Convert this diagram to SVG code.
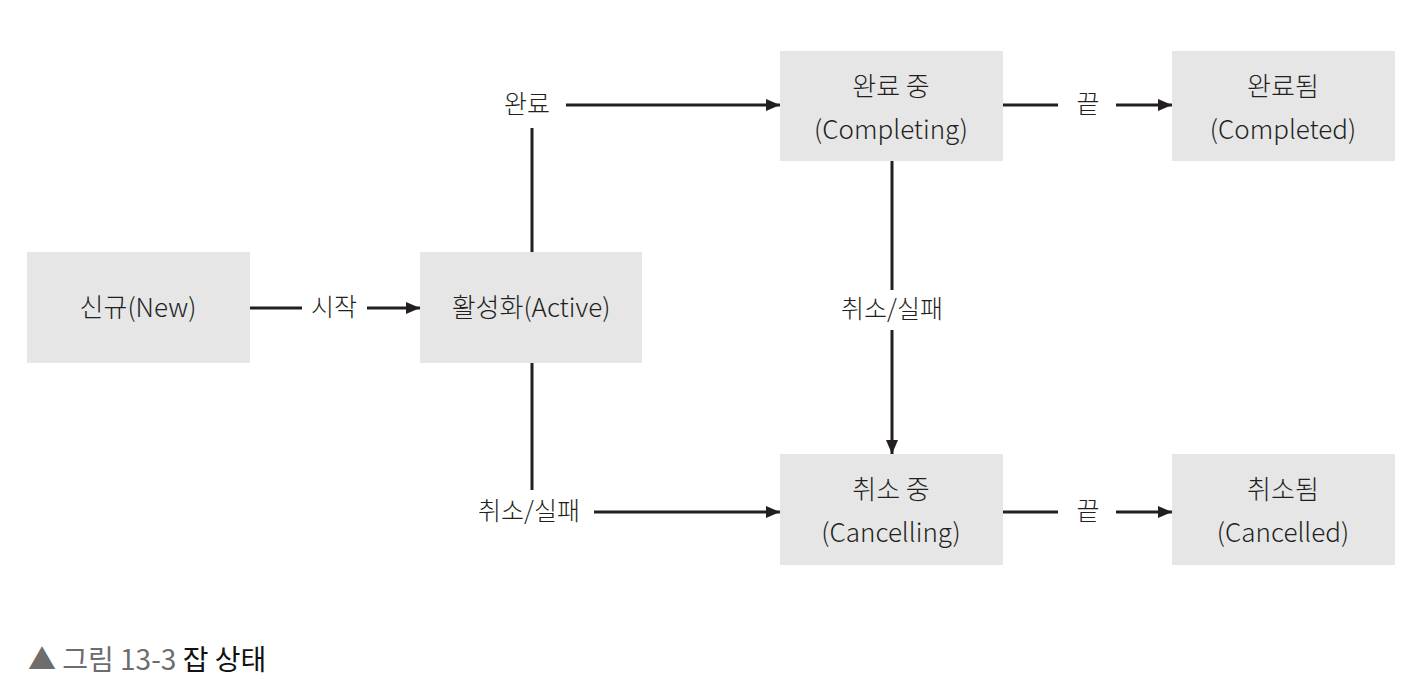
<svg xmlns="http://www.w3.org/2000/svg" width="1410" height="696" viewBox="0 0 1410 696">
<defs>
<marker id="arr" viewBox="0 0 14 12" refX="14" refY="6" markerWidth="14" markerHeight="12" markerUnits="userSpaceOnUse" orient="auto">
<path d="M0,0 L14,6 L0,12 z" fill="#231f20"/>
</marker>
<style>
.box{fill:#e6e6e6}
.t{font-family:"Noto Sans CJK KR","Noto Sans",sans-serif;font-size:26px;font-weight:300;fill:#231f20;text-anchor:middle}
.l{font-family:"Noto Sans CJK KR","Noto Sans",sans-serif;font-size:25px;font-weight:300;fill:#231f20;text-anchor:middle}
.c{fill:none;stroke:#231f20;stroke-width:3}
.ca{fill:none;stroke:#231f20;stroke-width:3;marker-end:url(#arr)}
</style>
</defs>
<rect width="1410" height="696" fill="#ffffff"/>
<g id="new"><rect class="box" x="27" y="252" width="223" height="111"/><text class="t" x="138" y="317">신규(New)</text></g>
<g id="active"><rect class="box" x="420" y="252" width="222" height="111"/><text class="t" x="531" y="317">활성화(Active)</text></g>
<g id="completing"><rect class="box" x="780" y="51" width="223" height="110"/><text class="t" x="891" y="96">완료 중</text><text class="t" x="891" y="139">(Completing)</text></g>
<g id="completed"><rect class="box" x="1172" y="51" width="223" height="110"/><text class="t" x="1283" y="96">완료됨</text><text class="t" x="1283" y="139">(Completed)</text></g>
<g id="cancelling"><rect class="box" x="780" y="454" width="223" height="111"/><text class="t" x="891" y="499">취소 중</text><text class="t" x="891" y="542">(Cancelling)</text></g>
<g id="cancelled"><rect class="box" x="1172" y="454" width="223" height="111"/><text class="t" x="1283" y="499">취소됨</text><text class="t" x="1283" y="542">(Cancelled)</text></g>
<g id="connectors">
<path class="c" d="M250,308 H302"/>
<text class="l" x="334" y="316">시작</text>
<path class="ca" d="M367,308 H420"/>
<path class="c" d="M532,252 V128"/>
<text class="l" x="527" y="113">완료</text>
<path class="ca" d="M566,105 H780"/>
<path class="c" d="M532,363 V490"/>
<text class="l" x="529" y="520">취소/실패</text>
<path class="ca" d="M594,512 H780"/>
<path class="c" d="M892,161 V290"/>
<text class="l" x="892" y="318">취소/실패</text>
<path class="ca" d="M892,330 V454"/>
<path class="c" d="M1003,105 H1058"/>
<text class="l" x="1088" y="113">끝</text>
<path class="ca" d="M1116,105 H1172"/>
<path class="c" d="M1003,512 H1058"/>
<text class="l" x="1088" y="520">끝</text>
<path class="ca" d="M1116,512 H1172"/>
</g>
<g id="caption">
<text x="28" y="670" style="font-family:'Noto Sans CJK KR','Noto Sans',sans-serif;font-size:28px"><tspan fill="#6d6d6d">▲ 그림 13-3</tspan><tspan fill="#111111"> 잡 상태</tspan></text>
</g>
</svg>
